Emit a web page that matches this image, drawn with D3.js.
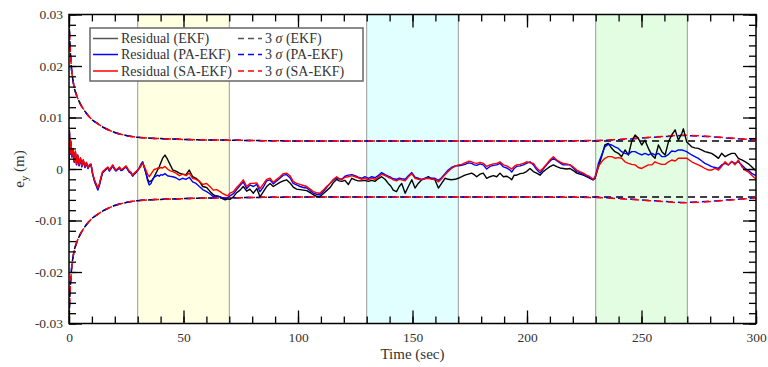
<!DOCTYPE html>
<html>
<head>
<meta charset="utf-8">
<script src="https://cdn.jsdelivr.net/npm/d3@7/dist/d3.min.js"></script>
<style>
  body { margin: 0; background: #fff; }
  svg { display: block; }
  text { font-family: "Liberation Serif", "Times New Roman", serif; fill: #333; }
</style>
</head>
<body>
<div id="chart"></div>
<script>
// residuals in mm, sampled from the figure
var time = [
  0, 0.2, 0.5, 0.8, 1.3, 1.8, 2.3, 2.8, 3.3, 3.8,
  4.4, 5, 5.6, 6.2, 7, 7.6, 8.3, 9, 9.6, 10.3,
  11.2, 12, 12.6, 13.3, 14, 14.7, 15.5, 16.2, 17, 17.6,
  18.4, 19.1, 19.8, 20.5, 21.3, 22, 22.7, 23.4, 24.1, 24.9,
  25.6, 26.3, 27, 27.8, 28.5, 29.3, 30,
  30.7, 31.5, 32.2, 32.9, 33.6, 34.3, 35, 35.8, 36.5, 37.2,
  38, 38.7, 39.4, 40.1, 40.9, 41.9, 43, 44, 45.3, 46.7,
  48.2, 49.6, 51.1, 52.5, 54, 55.5, 56.9, 58.4, 60.1, 61.5,
  63, 64.5, 66, 67.2, 68.2, 69.3,
  70.3, 71.8, 73.2, 74.7, 76.1, 77.6, 79, 80.5, 82, 83.4,
  84.9, 86.3, 87.8, 89.2, 90.7, 92.1, 93.6, 95, 96.5, 97.9,
  99.4, 100.9, 102.3, 103.8, 105.3, 106.7, 108.1, 109.5, 111, 112.5,
  114, 115.5, 116.9, 118, 119.1, 120.5, 122, 123.5, 124.9, 126.3,
  127.8, 129.2,
  130.7, 132.2, 133.6, 135, 136.5, 138, 139.4, 140.5, 141.6, 143,
  144.2, 145.3, 146.8, 148.2, 149.7, 151.1, 152.5, 154, 155.5, 156.9,
  158.4, 159.8, 161.3, 162.7, 164.2, 165.6, 167, 168.6,
  170, 171.5, 172.9, 174.4, 175.8, 177, 178, 179.5, 180.9, 182.4,
  183.8, 185.3, 186.8, 188.2, 189.7, 191.1, 192.6, 193.3, 194.4, 195.5,
  197, 198.4, 199.8, 201.3, 202.8, 204.2, 205.7, 207.1, 208.6, 210,
  211.5, 213, 214.4, 215.8, 217.3, 218.8, 220.2, 221.7, 223.1, 224.6,
  226, 227.5, 228.9, 229.7,
  231.2, 232.6, 234, 235.5, 237, 238.4, 239.9, 241.3, 242.8, 244.3,
  245.7, 247.2, 248.6, 250.1, 251.5, 253, 254.5, 255.9, 257.4, 258.9,
  260.3, 261.8, 263.2, 264.7, 266.1, 267.6, 268.3, 269.7, 271.9, 273.3,
  274.8, 276.2, 277.7, 279.2, 280.6, 282.1, 283.6, 285, 286.5, 287.9,
  289.4, 290.8, 292.3, 293.8, 295.2, 296.7, 298.1, 299.6, 300
];

var residEKF = [
  0, 7.2, 2.9, 5.3, 2.4, 3.8, 1.4, 3.3, 0.9, 2.6,
  0.7, 2.1, 0.5, 1.7, 0.4, 1.2, 0.2, 0.8, 0.9, -0.9,
  -2.4, -3.2, -3.9, -3.0, -1.7, -0.6, -0.3, 0, 0.3, -0.3,
  0.2, 0.7, 0.1, -0.3, 0, 0.3, -0.2, -0.1, 0.2, 0.5,
  0, -0.5, -0.7, -1.3, -0.9, -0.6, -0.2,
  0.1, 0.7, 1.1, 0.3, -0.8, -1.9, -2.5, -2.3, -2.1, -1.5,
  -0.8, -0.2, 0.45, 1.2, 2.1, 2.7, 1.9, 1.0, -0.2, -0.4,
  -0.8, -1.0, -1.1, -0.2, -1.5, -1.8, -2.4, -3.4, -3.6, -4.3,
  -5.0, -5.3, -5.4, -5.8, -6.0, -5.8,
  -5.9, -5.4, -4.6, -4.1, -3.4, -4.3, -3.9, -4.7, -3.8, -5.4,
  -4.4, -3.4, -2.8, -3.4, -3.0, -2.6, -2.3, -2.1, -2.7, -3.5,
  -3.9, -4.0, -4.1, -4.2, -4.6, -5.0, -5.3, -5.4, -4.8, -4.2,
  -3.6, -2.6, -2.0, -2.3, -2.4, -2.2, -3.0, -1.8, -2.1, -2.3,
  -2.3, -2.2,
  -2.4, -2.2, -2.4, -1.9, -1.5, -2.0, -2.8, -3.3, -4.1, -4.4,
  -3.4, -2.8, -4.7, -3.4, -2.1, -3.7, -2.8, -2.1, -1.8, -1.5,
  -1.9, -2.1, -3.7, -2.8, -1.8, -2.0, -2.1, -2.0,
  -1.8, -1.5, -1.2, -1.0, -0.8, -1.1, -1.5, -1.0, -0.8, -1.8,
  -1.5, -1.3, -1.5, -0.8, -1.5, -1.4, -1.8, -2.1, -1.2, -1.2,
  -0.9, -0.8, -0.5, 0.1, -0.5, -0.8, -1.2, -0.5, 0, 0.45,
  0.8, 0.45, 0.2, 0.1, 0.0, 0.1, -0.3, -0.8, -1.0, -1.2,
  -1.5, -1.8, -2.1, -1.8,
  0.45, 2.4, 4.66, 4.98, 4.01, 3.37, 3.04, 2.4, 3.7, 2.72,
  5.31, 6.6, 5.95, 4.66, 5.6, 4.01, 2.72, 2.07, 4.66, 3.37,
  2.72, 5.31, 6.6, 7.6, 5.6, 6.9, 7.8, 5.31, 4.3, 4.1,
  4.01, 3.7, 3.37, 3.2, 3.04, 2.6, 2.07, 3.04, 2.4, 2.72,
  3.04, 3.04, 2.07, 1.75, 1.42, 1.0, 0.45, -0.2, -0.3
];

var residPA = [
  0, 7.0, 2.8, 5.2, 2.3, 3.7, 1.3, 3.2, 0.8, 2.5,
  0.6, 2.0, 0.4, 1.6, 0.3, 1.1, 0.1, 0.7, 0.8, -1.0,
  -2.5, -3.4, -4.1, -3.1, -1.8, -0.7, -0.4, -0.1, 0.2, -0.4,
  0.1, 0.6, 0.0, -0.4, -0.1, 0.2, -0.3, -0.2, 0.1, 0.4,
  -0.1, -0.6, -0.8, -1.4, -1.0, -0.7, -0.3,
  0.3, 1.0, 1.4, 0.3, -0.8, -2.2, -3.1, -2.8, -2.0, -1.6,
  -1.4, -1.2, -1.4, -1.1, -1.2, -0.9, -1.3, -1.4, -1.5, -1.7,
  -2.1, -1.8, -2.0, -1.6, -2.5, -2.8, -3.4, -4.0, -4.4, -4.8,
  -5.4, -5.2, -5.4, -5.6, -5.7, -5.6,
  -5.2, -4.8, -4.0, -3.2, -2.5, -3.8, -3.1, -3.4, -3.0, -4.4,
  -3.5, -2.3, -2.1, -2.9, -2.3, -1.8, -1.2, -1.1, -1.7, -2.8,
  -3.1, -3.4, -3.6, -3.7, -4.2, -4.7, -4.9, -5.0, -4.4, -3.6,
  -2.8, -2.1, -1.7, -1.9, -2.0, -1.4, -1.2, -1.1, -1.3, -1.6,
  -1.8, -1.5,
  -1.8, -1.5, -1.7, -1.3, -0.7, -1.1, -1.4, -1.6, -1.9, -2.0,
  -1.8, -1.9, -2.0, -1.3, -0.7, -1.6, -1.8, -2.0, -1.8, -1.7,
  -1.8, -1.8, -2.2, -1.7, -0.9, -0.2, 0.3, 0.6,
  0.6, 0.7, 0.9, 1.2, 1.1, 0.8, 0.7, 1.0, 0.8, 0.0,
  0.5, 0.7, 0.8, 1.1, 0.4, 0.2, -0.2, -0.6, 0.1, 0.5,
  0.6, 0.8, 1.1, 1.4, 0.8, -0.1, -0.8, 0, 0.8, 1.5,
  2.1, 1.6, 1.2, 0.8, 0.8, 0.8, 0.2, -0.5, -0.7, -1.1,
  -1.4, -1.7, -2.1, -1.8,
  1.1, 2.7, 4.3, 4.8, 4.66, 4.3, 4.0, 3.37, 3.04, 2.85,
  3.37, 3.37, 3.04, 2.72, 3.04, 2.72, 3.04, 2.72, 3.04, 2.4,
  2.4, 2.85, 3.5, 3.37, 3.7, 3.7, 3.6, 3.37, 2.72, 2.4,
  2.07, 1.6, 1.1, 0.8, 0.45, 0.3, 0.13, 0.78, 1.1, 0.78,
  1.42, 1.1, 1.42, 0.78, 0.13, -0.3, -0.84, -1.17, -1.3
];

var residSA = [
  0, 7.5, 3.0, 5.5, 2.5, 4.0, 1.5, 3.5, 1.0, 2.8,
  0.8, 2.2, 0.6, 1.8, 0.5, 1.3, 0.3, 0.9, 1.0, -0.8,
  -2.2, -3.0, -3.7, -2.8, -1.5, -0.5, -0.2, 0.1, 0.4, -0.2,
  0.3, 0.8, 0.2, -0.2, 0.1, 0.4, -0.1, 0, 0.3, 0.6,
  0.1, -0.4, -0.6, -1.2, -0.8, -0.5, -0.2,
  0.1, 0.7, 1.1, 0.5, -0.2, -1.0, -1.5, -1.0, -0.5, -0.1,
  0, 0.2, 0.1, 0.3, 0.2, 0.5, 0.0, -0.3, -0.5, -0.8,
  -1.3, -1.0, -1.3, -0.8, -1.8, -2.0, -2.4, -3.0, -2.8, -3.4,
  -4.1, -4.0, -4.4, -4.8, -5.0, -5.2,
  -4.7, -4.4, -3.6, -2.9, -2.1, -3.4, -2.8, -2.8, -2.7, -3.8,
  -2.9, -2.0, -1.8, -2.6, -2.0, -1.5, -0.9, -0.8, -1.3, -2.4,
  -2.8, -3.0, -3.2, -3.4, -3.9, -4.4, -4.6, -4.7, -4.1, -3.4,
  -2.8, -2.0, -1.5, -1.9, -2.1, -1.6, -1.5, -1.3, -1.5, -1.7,
  -2.0, -1.8,
  -2.1, -1.8, -2.0, -1.6, -1.0, -1.3, -1.6, -1.8, -2.1, -2.3,
  -2.0, -2.1, -2.3, -1.5, -0.9, -1.8, -2.0, -2.1, -1.9, -1.8,
  -2.0, -2.0, -2.5, -1.9, -1.1, -0.5, 0.1, 0.5,
  0.8, 0.9, 1.2, 1.5, 1.4, 1.2, 1.1, 1.3, 1.1, 0.5,
  0.8, 1.0, 1.1, 1.4, 0.8, 0.6, 0.2, 0, 0.5, 0.8,
  0.9, 1.1, 1.4, 1.2, 1.1, 0.2, -0.4, 0.2, 1.0, 1.75,
  2.4, 1.75, 1.4, 1.1, 1.0, 0.8, 0.4, -0.2, -0.5, -0.8,
  -1.2, -1.5, -2.0, -1.5,
  0.5, 1.4, 2.07, 2.4, 2.4, 2.1, 2.2, 2.1, 1.4, 1.1,
  0.9, 0.8, 0.3, 0.1, 0.45, 0.8, 0.8, 1.4, 1.1, 0.9,
  0.9, 1.4, 1.75, 1.55, 2.1, 2.1, 2.1, 2.1, 1.4, 1.1,
  0.8, 0.5, 0.1, -0.2, -0.2, 0.1, -0.2, 0.5, 1.4, 0.8,
  1.5, 0.8, 1.75, 0.45, -0.2, -0.6, -1.2, -1.8, -2.2
];

// 3 sigma bound (mm), drawn as +/- envelope
var sigmaTime = [0, 0.5, 1, 2, 3.5, 5, 6.5, 8, 10, 12.5, 15, 20, 25, 30, 40, 50, 60, 70, 85, 100, 130, 170, 200, 230, 240, 250, 260, 268, 275, 285, 300];
var sigmaEKF = [29.5, 23.5, 20.0, 16.5, 14.1, 12.6, 11.5, 10.6, 9.6, 8.8, 8.1, 7.1, 6.5, 6.15, 5.9, 5.75, 5.65, 5.6, 5.5, 5.45, 5.45, 5.45, 5.45, 5.45, 5.45, 5.45, 5.45, 5.45, 5.45, 5.45, 5.45];
var sigmaPA = [29.5, 23.5, 20.0, 16.5, 14.1, 12.6, 11.5, 10.6, 9.6, 8.8, 8.1, 7.1, 6.5, 6.15, 5.9, 5.75, 5.65, 5.6, 5.5, 5.45, 5.45, 5.45, 5.45, 5.5, 5.7, 6.0, 6.3, 6.5, 6.4, 6.1, 5.6];
var sigmaSA = [29.5, 23.5, 20.0, 16.5, 14.1, 12.6, 11.5, 10.6, 9.6, 8.8, 8.1, 7.1, 6.5, 6.15, 5.9, 5.75, 5.65, 5.6, 5.5, 5.45, 5.45, 5.45, 5.45, 5.55, 5.75, 6.05, 6.35, 6.55, 6.45, 6.15, 5.6];

var bandStart = [30, 130, 230];
var bandEnd = [70, 170, 270];
var bandColors = ['#ffffe2', '#e2ffff', '#e2fde2'];

var xTicks = [0, 50, 100, 150, 200, 250, 300];
var yTicks = [-0.03, -0.02, -0.01, 0, 0.01, 0.02, 0.03];
var yTickLabels = ['-0.03', '-0.02', '-0.01', '0', '0.01', '0.02', '0.03'];

var seriesNames = ['Residual (EKF)', 'Residual (PA-EKF)', 'Residual (SA-EKF)'];
var sigmaNames = ['EKF', 'PA-EKF', 'SA-EKF'];
var colors = ['#000000', '#0000ff', '#ff0000'];

var width = 768, height = 367;
var x0 = 69, x1 = 756, yTop = 14.5, yBot = 323.5;

var svg = d3.select('#chart').append('svg')
  .attr('width', width)
  .attr('height', height);

var x = d3.scaleLinear().domain([0, 300]).range([x0, x1]);
var y = d3.scaleLinear().domain([-0.03, 0.03]).range([yBot, yTop]);

svg.append('clipPath').attr('id', 'clip')
  .append('rect')
  .attr('x', x0).attr('y', yTop)
  .attr('width', x1 - x0).attr('height', yBot - yTop);

// shaded time windows
bandStart.forEach(function(s, i) {
  svg.append('rect')
    .attr('x', x(s)).attr('y', yTop)
    .attr('width', x(bandEnd[i]) - x(s))
    .attr('height', yBot - yTop)
    .attr('fill', bandColors[i])
    .attr('stroke', '#9a9a9a')
    .attr('stroke-width', 1);
});

var plot = svg.append('g').attr('clip-path', 'url(#clip)');

var resid = [residEKF, residPA, residSA];
var sigmas = [sigmaEKF, sigmaPA, sigmaSA];

// dashed 3 sigma bounds
sigmas.forEach(function(sig, i) {
  [1, -1].forEach(function(sign) {
    var line = d3.line()
      .curve(d3.curveMonotoneX)
      .x(function(d, j) { return x(sigmaTime[j]); })
      .y(function(d) { return y(sign * d / 1000); });
    plot.append('path')
      .datum(sig)
      .attr('d', line)
      .attr('fill', 'none')
      .attr('stroke', colors[i])
      .attr('stroke-width', 1.5)
      .attr('stroke-dasharray', '7,5')
      .attr('stroke-dashoffset', -i * 2);
  });
});

// residual lines
resid.forEach(function(vals, i) {
  var line = d3.line()
    .x(function(d, j) { return x(time[j]); })
    .y(function(d) { return y(d / 1000); });
  plot.append('path')
    .datum(vals)
    .attr('d', line)
    .attr('fill', 'none')
    .attr('stroke', colors[i])
    .attr('stroke-width', 1.4)
    .attr('stroke-linejoin', 'round');
});

// axes with inward ticks on all four sides
function styleAxis(g) {
  g.select('.domain').remove();
  g.selectAll('line').attr('stroke', '#000').attr('stroke-width', 1.3);
  g.selectAll('text').attr('font-family', '"Liberation Serif", serif').attr('font-size', 13.5).attr('fill', '#333');
}

var xMinor = d3.range(0, 301, 10);
var yMinor = d3.range(-30, 31, 2).map(function(v) { return v / 1000; });

svg.append('g').attr('transform', 'translate(0,' + yBot + ')')
  .call(d3.axisBottom(x).tickValues(xMinor).tickSize(-7).tickFormat(''))
  .call(styleAxis);
svg.append('g').attr('transform', 'translate(0,' + yBot + ')')
  .call(d3.axisBottom(x).tickValues(xTicks).tickSize(-13).tickPadding(9).tickFormat(d3.format('d')))
  .call(styleAxis);
svg.append('g').attr('transform', 'translate(0,' + yTop + ')')
  .call(d3.axisTop(x).tickValues(xMinor).tickSize(-7).tickFormat(''))
  .call(styleAxis);
svg.append('g').attr('transform', 'translate(0,' + yTop + ')')
  .call(d3.axisTop(x).tickValues(xTicks).tickSize(-13).tickFormat(''))
  .call(styleAxis);

svg.append('g').attr('transform', 'translate(' + x0 + ',0)')
  .call(d3.axisLeft(y).tickValues(yMinor).tickSize(-7).tickFormat(''))
  .call(styleAxis);
svg.append('g').attr('transform', 'translate(' + x0 + ',0)')
  .call(d3.axisLeft(y).tickValues(yTicks).tickSize(-13).tickPadding(6)
    .tickFormat(function(d, i) { return yTickLabels[i]; }))
  .call(styleAxis);
svg.append('g').attr('transform', 'translate(' + x1 + ',0)')
  .call(d3.axisRight(y).tickValues(yMinor).tickSize(-7).tickFormat(''))
  .call(styleAxis);
svg.append('g').attr('transform', 'translate(' + x1 + ',0)')
  .call(d3.axisRight(y).tickValues(yTicks).tickSize(-13).tickFormat(''))
  .call(styleAxis);

// frame
svg.append('rect')
  .attr('x', x0).attr('y', yTop)
  .attr('width', x1 - x0).attr('height', yBot - yTop)
  .attr('fill', 'none')
  .attr('stroke', '#000')
  .attr('stroke-width', 1.5);

// axis titles
svg.append('text')
  .attr('x', (x0 + x1) / 2).attr('y', 359)
  .attr('text-anchor', 'middle')
  .attr('font-size', 15)
  .text('Time (sec)');

var ylab = svg.append('text')
  .attr('transform', 'translate(24,' + (yTop + yBot) / 2 + ') rotate(-90)')
  .attr('text-anchor', 'middle')
  .attr('font-size', 15);
ylab.append('tspan').text('e');
ylab.append('tspan').attr('font-size', 11).attr('dy', 4).text('y');
ylab.append('tspan').attr('dy', -4).text(' (m)');

// legend
var legend = svg.append('g');
legend.append('rect')
  .attr('x', 90).attr('y', 28)
  .attr('width', 273).attr('height', 53)
  .attr('fill', '#fff')
  .attr('stroke', '#666')
  .attr('stroke-width', 1.5);

var rowY = [38.5, 54.5, 71];
seriesNames.forEach(function(name, i) {
  legend.append('line')
    .attr('x1', 93).attr('x2', 118)
    .attr('y1', rowY[i]).attr('y2', rowY[i])
    .attr('stroke', colors[i] === '#000000' ? '#555' : colors[i])
    .attr('stroke-width', 1.5);
  legend.append('text')
    .attr('x', 121).attr('y', rowY[i] + 4.5)
    .attr('font-size', 14)
    .text(name);

  legend.append('line')
    .attr('x1', 238).attr('x2', 262)
    .attr('y1', rowY[i]).attr('y2', rowY[i])
    .attr('stroke', colors[i] === '#000000' ? '#555' : colors[i])
    .attr('stroke-width', 1.5)
    .attr('stroke-dasharray', '6,4');
  var t = legend.append('text')
    .attr('x', 265).attr('y', rowY[i] + 4.5)
    .attr('font-size', 14);
  t.append('tspan').text('3 ');
  t.append('tspan').attr('font-style', 'italic').text('σ');
  t.append('tspan').text(' (' + sigmaNames[i] + ')');
});
</script>
</body>
</html>
